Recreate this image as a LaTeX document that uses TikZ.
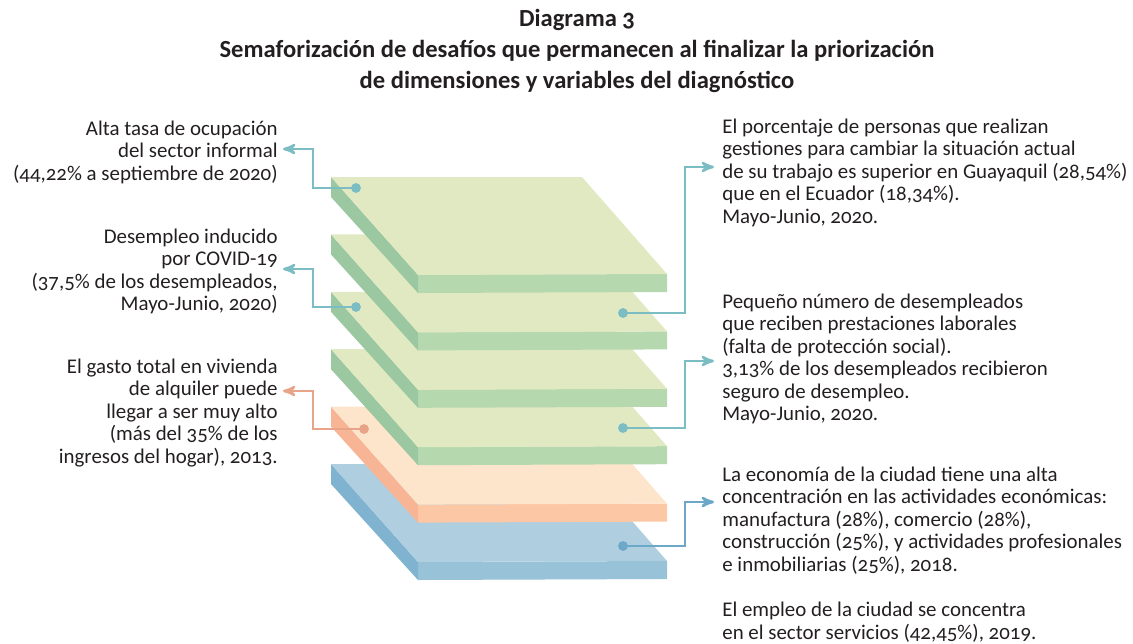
\documentclass[tikz,border=0pt]{standalone}
\usepackage{fontspec}
\setmainfont{Carlito}[Numbers=OldStyle]
\usepackage{xcolor}
\usepackage{tikz}
\usetikzlibrary{arrows,calc}
\definecolor{tinta}{HTML}{231F20}
\definecolor{g_top}{HTML}{E0E9C1}
\definecolor{g_front}{HTML}{B5D8AE}
\definecolor{g_side}{HTML}{9BC7A1}
\definecolor{p_top}{HTML}{FDE5CC}
\definecolor{p_front}{HTML}{FCC7A4}
\definecolor{p_side}{HTML}{F8B595}
\definecolor{b_top}{HTML}{AFCFE0}
\definecolor{b_front}{HTML}{97C2D7}
\definecolor{b_side}{HTML}{7FB3CF}
\definecolor{c_teal}{HTML}{7CBDC4}
\definecolor{c_salm}{HTML}{E8A489}
\definecolor{c_blue}{HTML}{6EA8C9}
\tikzset{
  txt/.style = {inner sep=0pt, text=tinta,
    font=\fontsize{11.9}{12.8}\selectfont},
  txt_l/.style = {txt, align=right, anchor=base east},% texto izquierda
  txt_r/.style = {txt, align=left, anchor=base west},% texto derecha
  dot/.style = {circle, inner sep=0pt, minimum size=5.6pt},
  dot_t/.style = {dot, fill=c_teal},
  dot_s/.style = {dot, fill=c_salm},
  dot_b/.style = {dot, fill=c_blue},
  conn_t/.style = {->, draw=c_teal, line width=1.4pt},
  conn_s/.style = {->, draw=c_salm, line width=1.4pt},
  conn_b/.style = {->, draw=c_blue, line width=1.4pt}
}
% capa: {y superior}{cara}{frente}{lado}
\newcommand{\capa}[4]{%
  \fill[#3] (418,#1+98) -- (667,#1+97) -- (667,#1+115) -- (418,#1+116) -- cycle;
  \fill[#4] (331,#1) -- (418,#1+98) -- (418,#1+116) -- (331,#1+20) -- cycle;
  \fill[#2] (331,#1) -- (582,#1) -- (667,#1+97) -- (418,#1+98) -- cycle;
}

\begin{document}
\begin{tikzpicture}[>=stealth', x=0.02cm, y=-0.02cm]
\useasboundingbox (0,0) rectangle (1133,643);

\node [txt, align=center, anchor=base, font=\fontsize{14}{17.6}\selectfont\bfseries]
  (title) at (577,88) {Diagrama 3\\
  Semaforización de desafíos que permanecen al finalizar la priorización\\
  de dimensiones y variables del diagnóstico};

% capas, de abajo hacia arriba
\capa{464}{b_top}{b_front}{b_side}
\capa{406.6}{p_top}{p_front}{p_side}
\foreach \y in {349.2,291.8,234.4,177}
  {\capa{\y}{g_top}{g_front}{g_side}}

% puntos
\node [dot_t] (d1) at (356,188) {};
\node [dot_t] (d2) at (356,307) {};
\node [dot_s] (d3) at (364,429) {};
\node [dot_t] (d4) at (623,313) {};
\node [dot_t] (d5) at (623,428) {};
\node [dot_b] (d6) at (623,546) {};

% textos (anclados en la ultima linea)
\node [txt_l] (l1) at (278,180) {Alta tasa de ocupación\\
  del sector informal\\
  (44,22\% a septiembre de 2020)};
\node [txt_l] (l2) at (278,310.5) {Desempleo inducido\\
  por COVID-19\\
  (37,5\% de los desempleados,\\
  Mayo-Junio, 2020)};
\node [txt_l] (l3) at (278,463) {El gasto total en vivienda\\
  de alquiler puede\\
  llegar a ser muy alto\\
  (más del 35\% de los\\
  ingresos del hogar), 2013.};
\node [txt_r] (r1) at (722,223) {El porcentaje de personas que realizan\\
  gestiones para cambiar la situación actual\\
  de su trabajo es superior en Guayaquil (28,54\%)\\
  que en el Ecuador (18,34\%).\\
  Mayo-Junio, 2020.};
\node [txt_r] (r2) at (722,420.5) {Pequeño número de desempleados\\
  que reciben prestaciones laborales\\
  (falta de protección social).\\
  3,13\% de los desempleados recibieron\\
  seguro de desempleo.\\
  Mayo-Junio, 2020.};
\node [txt_r] (r3) at (722,571) {La economía de la ciudad tiene una alta\\
  concentración en las actividades económicas:\\
  manufactura (28\%), comercio (28\%),\\
  construcción (25\%), y actividades profesionales\\
  e inmobiliarias (25\%), 2018.};
\node [txt_r] (r4) at (722,639) {El empleo de la ciudad se concentra\\
  en el sector servicios (42,45\%), 2019.};

% flechas
\coordinate (a1) at (283,149);
\coordinate (a2) at (283,269);
\coordinate (a3) at (283,391);
\coordinate (a4) at (714,167);
\coordinate (a5) at (714,361);
\coordinate (a6) at (714,502);
\draw [conn_t] (d1.center) -| ($(a1)+(30,0)$) -- (a1);
\draw [conn_t] (d2.center) -| ($(a2)+(30,0)$) -- (a2);
\draw [conn_s] (d3.center) -| ($(a3)+(30,0)$) -- (a3);
\draw [conn_t] (d4.center) -| ($(a4)+(-29,0)$) -- (a4);
\draw [conn_t] (d5.center) -| ($(a5)+(-29,0)$) -- (a5);
\draw [conn_b] (d6.center) -| ($(a6)+(-29,0)$) -- (a6);
\end{tikzpicture}
\end{document}
